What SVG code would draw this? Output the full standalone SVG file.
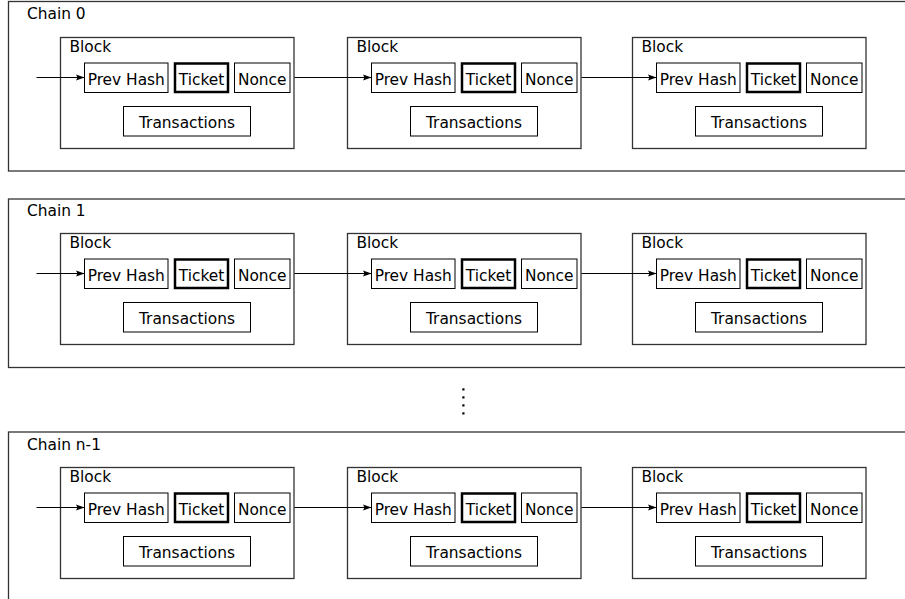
<svg xmlns="http://www.w3.org/2000/svg" width="905" height="599" viewBox="0 0 905 599">
<defs>
<style>
text{font-family:"DejaVu Sans","Liberation Sans",sans-serif;font-size:15.4px;fill:#000}
.c{text-anchor:middle}
.chain{fill:none;stroke:#333;stroke-width:1.3}
.blk{fill:#fff;stroke:#333;stroke-width:1.3}
.f{fill:#fff;stroke:#000;stroke-width:1}
.t{fill:#fff;stroke:#000;stroke-width:2.5}
.a{stroke:#000;stroke-width:1.1;fill:none;marker-end:url(#ah)}
</style>
<marker id="ah" markerUnits="userSpaceOnUse" markerWidth="9" markerHeight="7" refX="8.5" refY="3.5" orient="auto">
<path d="M0,0.5 L8.5,3.5 L0,6.5 L1.5,3.5 z" fill="#000"/>
</marker>
<g id="blk">
<rect class="blk" x="0" y="0" width="233.5" height="111"/>
<text x="9" y="14.5">Block</text>
<rect class="f" x="24" y="25.5" width="83.5" height="29.5"/>
<text class="c" x="65.75" y="47">Prev Hash</text>
<rect class="t" x="114.5" y="26" width="53" height="28.5"/>
<text class="c" x="141" y="47">Ticket</text>
<rect class="f" x="174" y="25.5" width="55.5" height="29.5"/>
<text class="c" x="201.75" y="47">Nonce</text>
<rect class="f" x="63" y="69" width="127" height="29.5"/>
<text class="c" x="126.5" y="90">Transactions</text>
</g>
</defs>

<g id="chain0">
<rect class="chain" x="8.5" y="1.5" width="920" height="169.5"/>
<text x="27" y="18.5">Chain 0</text>
</g>
<g id="chain0-block0"><use href="#blk" x="60.5" y="37.5"/></g>
<g id="chain0-block1"><use href="#blk" x="347.5" y="37.5"/></g>
<g id="chain0-block2"><use href="#blk" x="632.5" y="37.5"/></g>

<g id="chain1">
<rect class="chain" x="8.5" y="199" width="920" height="168.5"/>
<text x="27" y="216">Chain 1</text>
</g>
<g id="chain1-block0"><use href="#blk" x="60.5" y="233.5"/></g>
<g id="chain1-block1"><use href="#blk" x="347.5" y="233.5"/></g>
<g id="chain1-block2"><use href="#blk" x="632.5" y="233.5"/></g>

<g id="ellipsis" fill="#000">
<rect x="462.3" y="388.3" width="2.2" height="2.2"/>
<rect x="462.3" y="396.3" width="2.2" height="2.2"/>
<rect x="462.3" y="404.3" width="2.2" height="2.2"/>
<rect x="462.3" y="412.3" width="2.2" height="2.2"/>
</g>

<g id="chainN">
<rect class="chain" x="8.5" y="432" width="920" height="200"/>
<text x="27" y="449.5">Chain n-1</text>
</g>
<g id="chainN-block0"><use href="#blk" x="60.5" y="467.5"/></g>
<g id="chainN-block1"><use href="#blk" x="347.5" y="467.5"/></g>
<g id="chainN-block2"><use href="#blk" x="632.5" y="467.5"/></g>

<g id="connectors">
<line class="a" x1="36.5" y1="77.5" x2="84.5" y2="77.5"/>
<line class="a" x1="294.5" y1="77.5" x2="371.5" y2="77.5"/>
<line class="a" x1="581.5" y1="77.5" x2="656.5" y2="77.5"/>
<line class="a" x1="36.5" y1="273.5" x2="84.5" y2="273.5"/>
<line class="a" x1="294.5" y1="273.5" x2="371.5" y2="273.5"/>
<line class="a" x1="581.5" y1="273.5" x2="656.5" y2="273.5"/>
<line class="a" x1="36.5" y1="507.5" x2="84.5" y2="507.5"/>
<line class="a" x1="294.5" y1="507.5" x2="371.5" y2="507.5"/>
<line class="a" x1="581.5" y1="507.5" x2="656.5" y2="507.5"/>
</g>
</svg>
